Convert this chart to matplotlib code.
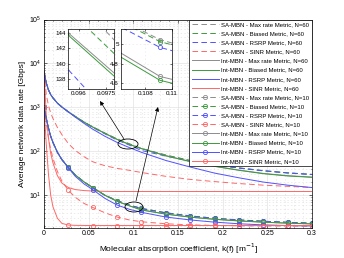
import matplotlib
matplotlib.use("Agg")
import matplotlib.pyplot as plt
from matplotlib.patches import Ellipse

plt.rcParams['font.family'] = ['Liberation Sans', 'DejaVu Sans']
plt.rcParams['lines.scale_dashes'] = False

# absorption coefficient grid [1/m]
k = [0, 0.0025, 0.005, 0.0075, 0.01, 0.015, 0.02, 0.0273, 0.035, 0.045, 0.0545,
     0.0682, 0.0818, 0.0955, 0.1091, 0.1364, 0.1636, 0.1909, 0.2182, 0.2455, 0.2727, 0.3]
mark_idx = [0, 7, 10, 12, 14, 15, 16, 17, 18, 19, 20, 21]

# N = 60
sa_max60 = [6600, 3600, 2500, 1950, 1650, 1250, 1020, 790, 620, 460, 360, 260, 192, 149.1, 115.7, 82, 62, 50, 42, 36.5, 32.5, 30]
sa_bias60 = [6600, 3600, 2500, 1950, 1650, 1250, 1020, 790, 620, 460, 360, 259, 190, 146.8, 116.4, 82, 62, 50, 42, 36.3, 32.3, 29.8]
sa_rsrp60 = [6600, 3600, 2500, 1950, 1650, 1250, 1020, 790, 620, 455, 352, 250, 181, 139.0, 104.4, 78, 60, 49, 41.5, 36, 32.2, 29.6]
int_max60 = [6600, 3600, 2500, 1950, 1650, 1250, 1020, 790, 620, 460, 358, 257, 188, 143.8, 116.1, 80, 59, 46, 37.5, 31.5, 28, 26]
int_bias60 = [6600, 3600, 2500, 1950, 1650, 1250, 1020, 790, 620, 460, 357, 256, 187, 143.5, 115.2, 79, 58.5, 45.5, 37, 31, 27.5, 25.6]
int_rsrp60 = [6600, 3600, 2500, 1950, 1650, 1250, 1020, 790, 600, 430, 320, 220, 160, 122, 95, 62, 44, 32, 25, 20, 17, 15]
sa_sinr60 = [6600, 2000, 1100, 750, 560, 350, 240, 150, 105, 75, 58, 47, 41, 37, 33, 27, 23, 20.5, 18.5, 17, 16, 15]
int_sinr60 = [6600, 700, 200, 90, 55, 28, 19, 15, 13.5, 12.8, 12.5, 12.3, 12.2, 12.2, 12.2, 12.2, 12.2, 12.2, 12.2, 12.2, 12.2, 12.2]

# N = 10
sa_max10 = [1000, 560, 340, 220, 160, 95, 65, 43, 29, 20, 15, 10, 7.6, 6.0, 5.05, 4.0, 3.4, 3.0, 2.75, 2.57, 2.43, 2.32]
sa_bias10 = [1000, 560, 340, 220, 160, 95, 65, 43, 29, 20, 15, 10, 7.6, 6.0, 5.03, 4.0, 3.4, 3.0, 2.75, 2.57, 2.43, 2.32]
sa_rsrp10 = [1000, 560, 340, 220, 160, 95, 65, 43, 29, 20, 15, 10, 7.5, 5.95, 4.97, 3.95, 3.37, 2.98, 2.73, 2.56, 2.42, 2.31]
int_max10 = [1000, 560, 340, 220, 160, 95, 65, 43, 29, 20, 15, 10, 7.3, 5.8, 4.67, 3.75, 3.2, 2.85, 2.62, 2.45, 2.33, 2.24]
int_bias10 = [1000, 560, 340, 220, 160, 95, 65, 43, 29, 20, 15, 10, 7.3, 5.75, 4.63, 3.72, 3.18, 2.84, 2.61, 2.44, 2.32, 2.23]
int_rsrp10 = [1000, 560, 340, 220, 160, 95, 65, 42, 27, 18, 13.5, 8.5, 6.0, 4.8, 4.1, 3.2, 2.75, 2.45, 2.25, 2.12, 2.05, 2.0]
sa_sinr10 = [1000, 450, 200, 110, 70, 35, 21, 13, 9, 6.5, 5.3, 4.0, 3.2, 2.75, 2.5, 2.25, 2.12, 2.06, 2.02, 2.0, 1.99, 1.98]
int_sinr10 = [1000, 150, 30, 10, 5.5, 3.0, 2.3, 2.1, 2.07, 2.06, 2.05, 2.05, 2.05, 2.05, 2.05, 2.05, 2.05, 2.05, 2.05, 2.05, 2.05, 2.05]

x_ticks = [0, 0.05, 0.1, 0.15, 0.2, 0.25, 0.3]
x_labels = ['0', '0.05', '0.1', '0.15', '0.2', '0.25', '0.3']

gray, green, blue, red = '#8c8c8c', '#3c9a3c', '#5050ff', '#ff6666'

series = [
    (sa_max60, gray, '--', None, 'SA-MBN - Max rate Metric, N=60'),
    (sa_bias60, green, '--', None, 'SA-MBN - Biased Metric, N=60'),
    (sa_rsrp60, blue, '--', None, 'SA-MBN - RSRP Metric, N=60'),
    (sa_sinr60, red, '--', None, 'SA-MBN - SINR Metric, N=60'),
    (int_max60, gray, '-', None, 'Int-MBN - Max rate Metric, N=60'),
    (int_bias60, green, '-', None, 'Int-MBN - Biased Metric, N=60'),
    (int_rsrp60, blue, '-', None, 'Int-MBN - RSRP Metric, N=60'),
    (int_sinr60, red, '-', None, 'Int-MBN - SINR Metric, N=60'),
    (sa_max10, gray, '--', 'o', 'SA-MBN - Max rate Metric, N=10'),
    (sa_bias10, green, '--', 'o', 'SA-MBN - Biased Metric, N=10'),
    (sa_rsrp10, blue, '--', 'o', 'SA-MBN - RSRP Metric, N=10'),
    (sa_sinr10, red, '--', 'o', 'SA-MBN - SINR Metric, N=10'),
    (int_max10, gray, '-', 'o', 'Int-MBN - Max rate Metric, N=10'),
    (int_bias10, green, '-', 'o', 'Int-MBN - Biased Metric, N=10'),
    (int_rsrp10, blue, '-', 'o', 'Int-MBN - RSRP Metric, N=10'),
    (int_sinr10, red, '-', 'o', 'Int-MBN - SINR Metric, N=10'),
]


def draw(ax):
    for y, c, ls, m, lab in series:
        kw = dict(color=c, lw=0.7, label=lab)
        if ls == '--':
            kw['dashes'] = (4, 2.4)
        if m:
            kw.update(marker='o', ms=3, mfc='none', mew=0.6, markevery=mark_idx)
        ax.plot(k, y, **kw)


fig = plt.figure(figsize=(3.44, 2.58), dpi=100)
ax = fig.add_axes([44 / 344, 1 - 227.5 / 258, 268 / 344, 208 / 258])
draw(ax)
ax.set_yscale('log')
ax.set_xlim(0, 0.3)
ax.set_ylim(1.85, 1e5)
ax.set_xticks(x_ticks)
ax.set_xticklabels(x_labels)
ax.set_xticks([i / 100 for i in range(31)], minor=True)
ax.tick_params(which='both', direction='in', top=True, right=True, labelsize=5,
               length=2, width=0.4, pad=2)
ax.tick_params(which='minor', length=1)
ax.grid(True, which='major', color='#dcdcdc', lw=0.4)
ax.grid(True, which='minor', color='#dcdcdc', lw=0.4, ls=':')
for s in ax.spines.values():
    s.set_linewidth(0.5)
ax.set_xlabel('Molecular absorption coefficient, k(f) [m$^{-1}$]', fontsize=6, labelpad=3)
ax.set_ylabel('Average network data rate [Gbps]', fontsize=6, labelpad=2)

leg = ax.legend(loc='upper right', fontsize=4.3, handlelength=4.6, labelspacing=0.66,
                borderaxespad=0, fancybox=False, framealpha=1, edgecolor='black',
                borderpad=0.4, handletextpad=0.4)
leg.get_frame().set_linewidth(0.5)

# zoomed views
ins1 = fig.add_axes([68 / 344, 1 - 89 / 258, 46 / 344, 60 / 258])
draw(ins1)
ins1.set_xlim(0.09539, 0.09794)
ins1.set_ylim(136.75, 144.5)
ins1.set_xticks([0.096, 0.0975])
ins1.set_xticklabels(['0.096', '0.0975'])
ins1.set_yticks([138, 140, 142, 144])
ins1.set_yticklabels(['138', '140', '142', '144'])

ins2 = fig.add_axes([121 / 344, 1 - 89 / 258, 51 / 344, 60 / 258])
draw(ins2)
ins2.set_xlim(0.1062, 0.1100)
ins2.set_ylim(4.54, 5.16)
ins2.set_xticks([0.108, 0.11])
ins2.set_xticklabels(['0.108', '0.11'])
ins2.set_yticks([4.6, 4.8, 5])
ins2.set_yticklabels(['4.6', '4.8', '5'])

for a in (ins1, ins2):
    a.tick_params(direction='in', labelsize=4.5, length=1.5, width=0.4, pad=1.5,
                  top=True, right=True)
    a.grid(True, color='#e4e4e4', lw=0.4, ls=':')
    for s in a.spines.values():
        s.set_linewidth(0.5)

# ellipses and arrows pointing at the zoomed regions
W, H = 344, 258
for cx, cy, w, h in [(128, 144, 20, 10), (134, 207, 18, 10)]:
    fig.patches.append(Ellipse((cx / W, 1 - cy / H), w / W, h / H, fill=False,
                               ec='black', lw=0.6, transform=fig.transFigure))
for (x0, y0), (x1, y1) in [((124, 139), (100, 101)), ((136, 201), (158, 107))]:
    ax.annotate('', xy=(x1 / W, 1 - y1 / H), xytext=(x0 / W, 1 - y0 / H),
                xycoords='figure fraction', textcoords='figure fraction',
                arrowprops=dict(arrowstyle='-|>', color='black', lw=0.5,
                                mutation_scale=6, shrinkA=0, shrinkB=0))

fig.savefig('out.png', dpi=100)
